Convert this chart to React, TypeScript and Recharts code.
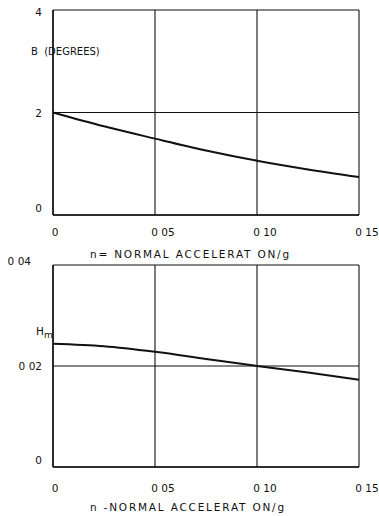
import { CartesianGrid, Line, LineChart, XAxis, YAxis } from "recharts";

// n = normal acceleration / g
const accel = [0, 0.025, 0.05, 0.075, 0.1, 0.125, 0.15];
// upper panel, B in degrees
const betaDeg = [2.0, 1.73, 1.49, 1.26, 1.06, 0.89, 0.74];
// lower panel, Hm
const hmValues = [0.0244, 0.0239, 0.0228, 0.0214, 0.02, 0.0187, 0.0173];

const xTicks = [0, 0.05, 0.1, 0.15];
const xTickLabels = ["0", "0 05", "0 10", "0 15"];
const betaTicks = [0, 2, 4];
const betaTickLabels = ["0", "2", "4"];
const hmTicks = [0, 0.02, 0.04];
const hmTickLabels = ["0", "0 02", "0 04"];

const betaRows = accel.map((n, i) => ({ n, v: betaDeg[i] }));
const hmRows = accel.map((n, i) => ({ n, v: hmValues[i] }));

const FONT = "'DejaVu Sans', sans-serif";
const INK = "#111";

function makeXTick(dy: number) {
  return function XTick(props: any) {
    const { x, y, index } = props;
    return (
      <text
        x={x + (index === 0 ? 2 : 8)}
        y={y}
        dy={dy}
        textAnchor="middle"
        fontFamily={FONT}
        fontSize={10.5}
        fill={INK}
      >
        {xTickLabels[index]}
      </text>
    );
  };
}

function makeYTick(labels: string[]) {
  return function YTick(props: any) {
    const { y, index, payload } = props;
    const top = index === labels.length - 1;
    const dy = top ? (payload.value === 4 ? 6 : 0) : index === 0 ? -3 : 4;
    return (
      <text
        x={top && labels[index].length > 1 ? 31 : 42}
        y={y + dy}
        textAnchor="end"
        fontFamily={FONT}
        fontSize={10.5}
        fill={INK}
      >
        {labels[index]}
      </text>
    );
  };
}

const TopXTick = makeXTick(13);
const BottomXTick = makeXTick(17);
const BetaTick = makeYTick(betaTickLabels);
const HmTick = makeYTick(hmTickLabels);

const textStyle: React.CSSProperties = {
  position: "absolute",
  fontFamily: FONT,
  fontSize: 10.5,
  color: INK,
  whiteSpace: "nowrap",
  lineHeight: 1,
};

export default function App() {
  return (
    <div
      style={{
        position: "absolute",
        left: 0,
        top: 0,
        width: 379,
        height: 516,
        background: "#fff",
        overflow: "hidden",
      }}
    >
      <div style={{ position: "absolute", left: 0, top: 0 }}>
        <LineChart
          width={379}
          height={240}
          data={betaRows}
          margin={{ top: 10, right: 20, left: 13, bottom: 0 }}
        >
          <CartesianGrid stroke={INK} strokeWidth={1.1} />
          <XAxis
            dataKey="n"
            type="number"
            domain={[0, 0.15]}
            ticks={xTicks}
            height={25}
            tickLine={false}
            axisLine={{ stroke: INK, strokeWidth: 1.5 }}
            tick={<TopXTick />}
            interval={0}
          />
          <YAxis
            type="number"
            domain={[0, 4]}
            ticks={betaTicks}
            width={40}
            tickLine={false}
            axisLine={{ stroke: INK, strokeWidth: 1.5 }}
            tick={<BetaTick />}
            interval={0}
          />
          <Line
            type="monotone"
            dataKey="v"
            stroke={INK}
            strokeWidth={2}
            dot={false}
            isAnimationActive={false}
          />
        </LineChart>
      </div>
      <div style={{ position: "absolute", left: 0, top: 240 }}>
        <LineChart
          width={379}
          height={276}
          data={hmRows}
          margin={{ top: 25, right: 20, left: 13, bottom: 0 }}
        >
          <CartesianGrid stroke={INK} strokeWidth={1.1} />
          <XAxis
            dataKey="n"
            type="number"
            domain={[0, 0.15]}
            ticks={xTicks}
            height={49}
            tickLine={false}
            axisLine={{ stroke: INK, strokeWidth: 1.5 }}
            tick={<BottomXTick />}
            interval={0}
          />
          <YAxis
            type="number"
            domain={[0, 0.04]}
            ticks={hmTicks}
            width={40}
            tickLine={false}
            axisLine={{ stroke: INK, strokeWidth: 1.5 }}
            tick={<HmTick />}
            interval={0}
          />
          <Line
            type="monotone"
            dataKey="v"
            stroke={INK}
            strokeWidth={2}
            dot={false}
            isAnimationActive={false}
          />
        </LineChart>
      </div>

      <div style={{ ...textStyle, left: 31, top: 47, fontSize: 10 }}>B&nbsp;&nbsp;(DEGREES)</div>
      <div style={{ ...textStyle, left: 90, top: 249, letterSpacing: 1.8 }}>
        n= NORMAL ACCELERAT ON/g
      </div>
      <div style={{ ...textStyle, left: 36, top: 326 }}>
        H<sub style={{ fontSize: 9 }}>m</sub>
      </div>
      <div style={{ ...textStyle, left: 90, top: 502, letterSpacing: 1.8 }}>
        n -NORMAL ACCELERAT ON/g
      </div>
    </div>
  );
}
